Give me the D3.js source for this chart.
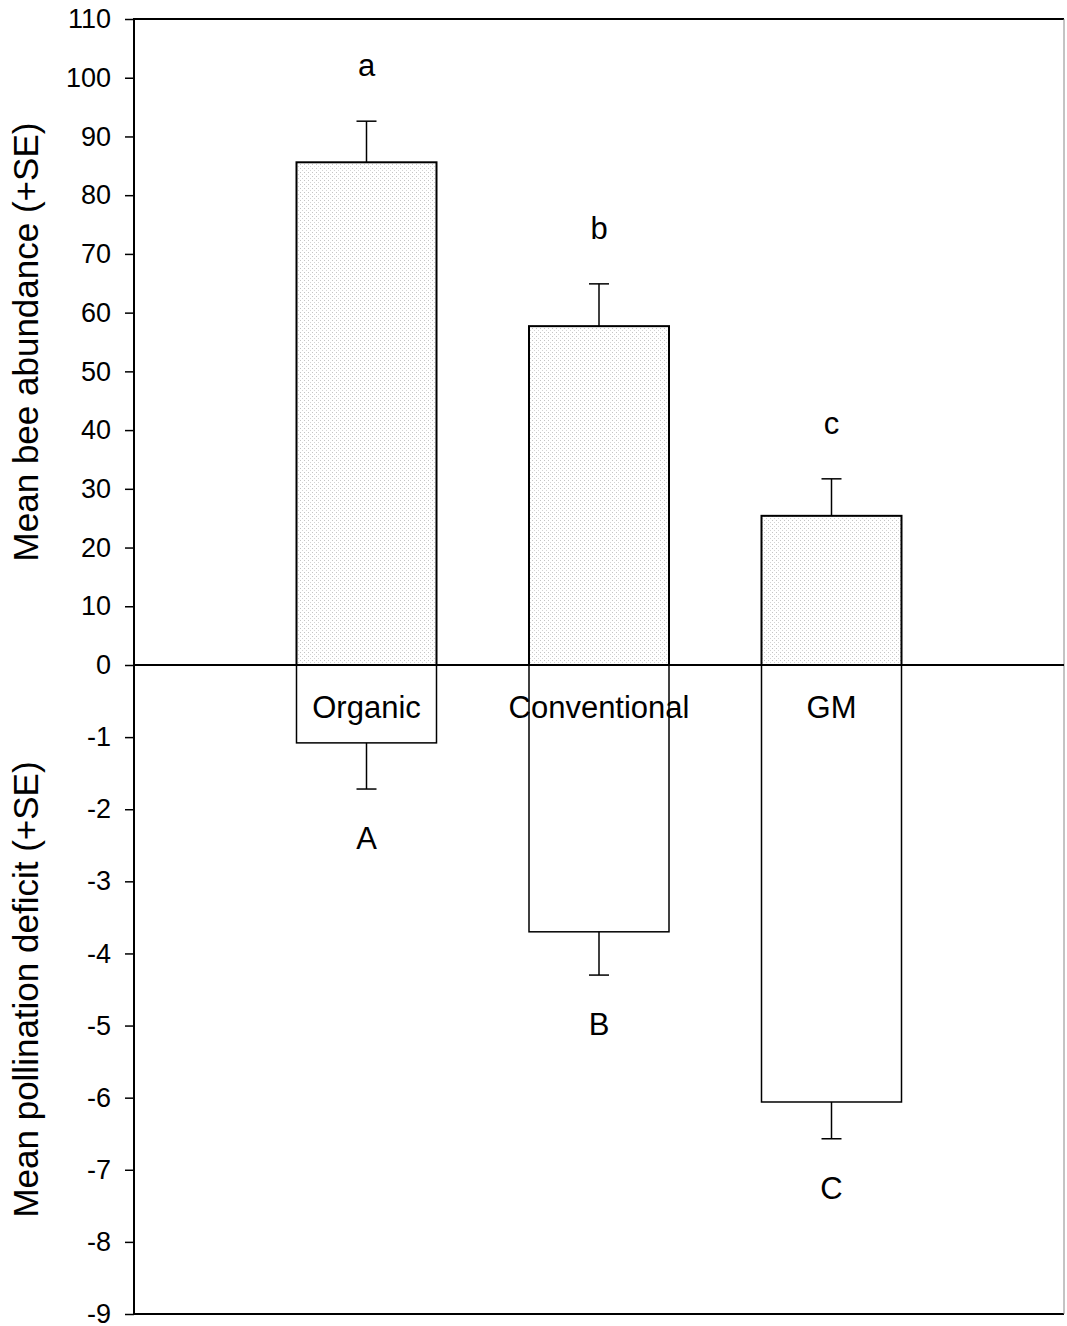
<!DOCTYPE html>
<html>
<head>
<meta charset="utf-8">
<script src="https://cdn.jsdelivr.net/npm/d3@7"></script>
<style>
  body { margin: 0; background: #fff; }
  svg text { font-family: "Liberation Sans", Arial, sans-serif; fill: #000; }
</style>
</head>
<body>
<svg id="chart" width="1067" height="1326"></svg>
<script>
// Farming systems
const categories = ["Organic", "Conventional", "GM"];

// Upper panel: mean bee abundance and SE bar ends
const beeMean = [85.6, 57.7, 25.4];
const beeSETop = [92.6, 64.9, 31.7];
const beeLetters = ["a", "b", "c"];

// Lower panel: mean pollination deficit and SE bar ends
const deficitMean = [-1.08, -3.70, -6.06];
const deficitSEEnd = [-1.72, -4.30, -6.57];
const deficitLetters = ["A", "B", "C"];

// Axis ticks
const beeTicks = [0, 10, 20, 30, 40, 50, 60, 70, 80, 90, 100, 110];
const deficitTicks = [-1, -2, -3, -4, -5, -6, -7, -8, -9];

const svg = d3.select("#chart");
const plotLeft = 134, plotRight = 1064, plotTop = 19, zeroY = 665, plotBottom = 1314;

const x = d3.scalePoint().domain(categories).range([plotLeft, plotRight]).padding(1);
const barW = 140;

const yTop = d3.scaleLinear().domain([0, 110]).range([zeroY, plotTop]);
const yBot = d3.scaleLinear().domain([0, -9]).range([zeroY, plotBottom]);

// light stipple used for the abundance bars
const defs = svg.append("defs");
const pat = defs.append("pattern")
  .attr("id", "stipple").attr("patternUnits", "userSpaceOnUse")
  .attr("width", 4).attr("height", 4);
pat.append("rect").attr("width", 4).attr("height", 4).attr("fill", "#fff");
pat.append("rect").attr("x", 0).attr("y", 0).attr("width", 1).attr("height", 1).attr("fill", "#c4c4c4");
pat.append("rect").attr("x", 2).attr("y", 2).attr("width", 1).attr("height", 1).attr("fill", "#d4d4d4");

// frame
svg.append("line").attr("x1", plotLeft).attr("x2", plotRight).attr("y1", plotTop).attr("y2", plotTop)
  .attr("stroke", "#000").attr("stroke-width", 2);
svg.append("line").attr("x1", plotLeft).attr("x2", plotRight).attr("y1", plotBottom).attr("y2", plotBottom)
  .attr("stroke", "#000").attr("stroke-width", 2);
svg.append("line").attr("x1", plotRight).attr("x2", plotRight).attr("y1", plotTop).attr("y2", plotBottom)
  .attr("stroke", "#888").attr("stroke-width", 1);

// upper bars
svg.append("g").selectAll("rect").data(categories).join("rect")
  .attr("x", d => x(d) - barW / 2)
  .attr("y", (d, i) => yTop(beeMean[i]))
  .attr("width", barW)
  .attr("height", (d, i) => yTop(0) - yTop(beeMean[i]))
  .attr("fill", "url(#stipple)")
  .attr("stroke", "#000").attr("stroke-width", 2);

// lower bars
svg.append("g").selectAll("rect").data(categories).join("rect")
  .attr("x", d => x(d) - barW / 2)
  .attr("y", yBot(0))
  .attr("width", barW)
  .attr("height", (d, i) => yBot(deficitMean[i]) - yBot(0))
  .attr("fill", "#fff")
  .attr("stroke", "#000").attr("stroke-width", 1.5);

// error bars
const cap = 10;
const eb = svg.append("g").attr("stroke", "#000").attr("stroke-width", 1.5);
categories.forEach((c, i) => {
  const cx = x(c);
  eb.append("line").attr("x1", cx).attr("x2", cx).attr("y1", yTop(beeMean[i])).attr("y2", yTop(beeSETop[i]));
  eb.append("line").attr("x1", cx - cap).attr("x2", cx + cap).attr("y1", yTop(beeSETop[i])).attr("y2", yTop(beeSETop[i]));
  eb.append("line").attr("x1", cx).attr("x2", cx).attr("y1", yBot(deficitMean[i])).attr("y2", yBot(deficitSEEnd[i]));
  eb.append("line").attr("x1", cx - cap).attr("x2", cx + cap).attr("y1", yBot(deficitSEEnd[i])).attr("y2", yBot(deficitSEEnd[i]));
});

// zero line
svg.append("line").attr("x1", plotLeft).attr("x2", plotRight).attr("y1", zeroY).attr("y2", zeroY)
  .attr("stroke", "#000").attr("stroke-width", 2);

// axes
const axTop = d3.axisLeft(yTop).tickValues(beeTicks).tickSize(9).tickPadding(14).tickFormat(d3.format("d"));
const axBot = d3.axisLeft(yBot).tickValues(deficitTicks).tickSize(9).tickPadding(14).tickFormat(d => "-" + Math.abs(d));
[svg.append("g").attr("transform", `translate(${plotLeft},0)`).call(axTop),
 svg.append("g").attr("transform", `translate(${plotLeft},0)`).call(axBot)].forEach(g => {
  g.attr("font-size", null).attr("font-family", null);
  g.select(".domain").remove();
  g.selectAll(".tick line").attr("stroke", "#000").attr("stroke-width", 1.5);
  g.selectAll(".tick text").style("font-size", "27px").attr("fill", "#000");
});
svg.append("line").attr("x1", plotLeft).attr("x2", plotLeft).attr("y1", plotTop - 1).attr("y2", plotBottom + 1)
  .attr("stroke", "#000").attr("stroke-width", 2);

// category labels
svg.append("g").selectAll("text").data(categories).join("text")
  .attr("x", d => x(d)).attr("y", zeroY + 53)
  .attr("text-anchor", "middle").style("font-size", "31px").text(d => d);

// significance letters
svg.append("g").selectAll("text").data(categories).join("text")
  .attr("x", d => x(d)).attr("y", (d, i) => yTop(beeSETop[i]) - 45)
  .attr("text-anchor", "middle").style("font-size", "31px").text((d, i) => beeLetters[i]);
svg.append("g").selectAll("text").data(categories).join("text")
  .attr("x", d => x(d)).attr("y", (d, i) => yBot(deficitSEEnd[i]) + 60)
  .attr("text-anchor", "middle").style("font-size", "31px").text((d, i) => deficitLetters[i]);

// axis titles
svg.append("text").attr("transform", `translate(38,${(plotTop + zeroY) / 2}) rotate(-90)`)
  .attr("text-anchor", "middle").style("font-size", "35px").text("Mean bee abundance (+SE)");
svg.append("text").attr("transform", `translate(38,${(zeroY + plotBottom) / 2}) rotate(-90)`)
  .attr("text-anchor", "middle").style("font-size", "35px").text("Mean pollination deficit (+SE)");
</script>
</body>
</html>
